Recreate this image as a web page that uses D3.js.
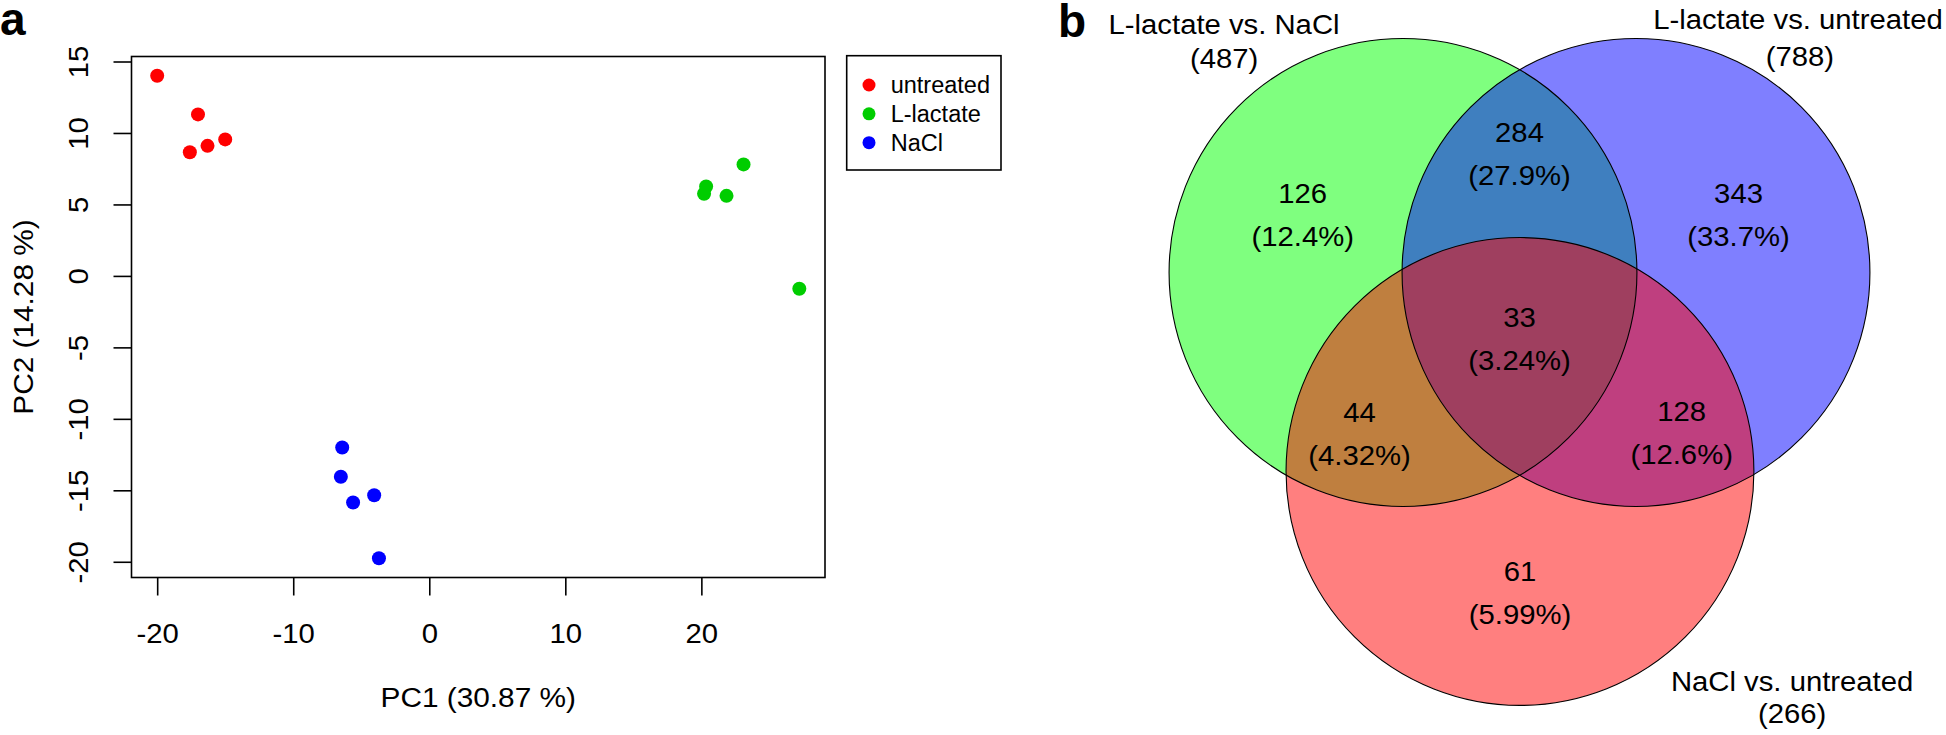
<!DOCTYPE html>
<html>
<head>
<meta charset="utf-8">
<script src="https://cdn.jsdelivr.net/npm/d3@7"></script>
<style>
  html, body { margin: 0; padding: 0; background: #fff; }
  svg text { font-family: "Liberation Sans", Arial, Helvetica, sans-serif; fill: #000; }
</style>
</head>
<body>
<svg id="chart" width="1946" height="735"></svg>
<script>
// ---------- Panel a: PCA data ----------
const groups = ["untreated", "L-lactate", "NaCl"];
const groupColors = ["#FF0000", "#00CD00", "#0000FF"];
const pc1Untreated = [-20.0, -17.0, -17.6, -16.3, -15.0];
const pc2Untreated = [14.0, 11.3, 8.65, 9.1, 9.55];
const pc1Lactate = [23.1, 20.35, 20.2, 21.85, 27.2];
const pc2Lactate = [7.8, 6.25, 5.75, 5.6, -0.9];
const pc1NaCl = [-6.4, -6.5, -5.6, -4.05, -3.7];
const pc2NaCl = [-12.0, -14.05, -15.85, -15.35, -19.75];
const xTicks = [-20, -10, 0, 10, 20];
const yTicks = [-20, -15, -10, -5, 0, 5, 10, 15];
const xTitle = "PC1 (30.87 %)";
const yTitle = "PC2 (14.28 %)";

// ---------- Panel b: Venn data ----------
const setNames = ["L-lactate vs. NaCl", "L-lactate vs. untreated", "NaCl vs. untreated"];
const setTotals = [487, 788, 266];
const setFills = ["#00FF00", "#0000FF", "#FF0000"];
const regionCounts = [126, 343, 61, 284, 44, 128, 33];
const regionPercents = ["12.4%", "33.7%", "5.99%", "27.9%", "4.32%", "12.6%", "3.24%"];

// ---------- layout ----------
const SX = 1.065;
const svg = d3.select("#chart");

function txt(g, x, y, s, opts) {
  opts = opts || {};
  const fs = opts.fs || 27.5;
  const sx = opts.sx || SX;
  const rot = opts.rot ? ` rotate(${opts.rot})` : "";
  return g.append("text")
    .attr("transform", `translate(${x},${y})${rot} scale(${sx},1)`)
    .attr("text-anchor", opts.anchor || "middle")
    .attr("font-size", fs)
    .attr("font-weight", opts.bold ? "bold" : null)
    .text(s);
}

// ===== Panel a =====
const plot = { left: 131.5, right: 825, top: 56.5, bottom: 577.5 };
const series = [
  { x: pc1Untreated, y: pc2Untreated },
  { x: pc1Lactate, y: pc2Lactate },
  { x: pc1NaCl, y: pc2NaCl }
];
const allX = series.flatMap(s => s.x), allY = series.flatMap(s => s.y);
function pad(ext) { const d = (ext[1] - ext[0]) * 0.04; return [ext[0] - d, ext[1] + d]; }
const xs = d3.scaleLinear().domain(pad(d3.extent(allX))).range([plot.left, plot.right]);
const ys = d3.scaleLinear().domain(pad(d3.extent(allY))).range([plot.bottom, plot.top]);

const ga = svg.append("g");
ga.append("rect")
  .attr("x", plot.left).attr("y", plot.top)
  .attr("width", plot.right - plot.left).attr("height", plot.bottom - plot.top)
  .attr("fill", "none").attr("stroke", "#000").attr("stroke-width", 1.6);

const xAxis = ga.append("g").attr("transform", `translate(0,${plot.bottom})`)
  .call(d3.axisBottom(xs).tickValues(xTicks).tickSize(18).tickSizeOuter(0).tickFormat(d => String(d)));
xAxis.select(".domain").remove();
xAxis.selectAll(".tick line").attr("stroke", "#000").attr("stroke-width", 1.6);
xAxis.selectAll(".tick text")
  .attr("x", null).attr("y", null).attr("dy", null).attr("fill", "#000")
  .attr("font-size", 27.5)
  .attr("transform", `translate(0,65.5) scale(${SX},1)`);

const yAxis = ga.append("g").attr("transform", `translate(${plot.left},0)`)
  .call(d3.axisLeft(ys).tickValues(yTicks).tickSize(18).tickSizeOuter(0).tickFormat(d => String(d)));
yAxis.select(".domain").remove();
yAxis.selectAll(".tick line").attr("stroke", "#000").attr("stroke-width", 1.6);
yAxis.selectAll(".tick text")
  .attr("x", null).attr("y", null).attr("dy", null).attr("fill", "#000")
  .attr("font-size", 27.5).attr("text-anchor", "middle")
  .attr("transform", `translate(-43.5,0) rotate(-90) scale(${SX},1)`);

series.forEach((s, i) => {
  ga.append("g").selectAll("circle")
    .data(s.x.map((v, k) => [v, s.y[k]]))
    .join("circle")
    .attr("cx", d => xs(d[0])).attr("cy", d => ys(d[1]))
    .attr("r", 7).attr("fill", groupColors[i]);
});

txt(ga, (plot.left + plot.right) / 2, 707, xTitle, { fs: 28 });
txt(ga, 33, (plot.top + plot.bottom) / 2, yTitle, { fs: 28, rot: -90 });
txt(ga, 0, 35, "a", { fs: 46, bold: true, anchor: "start", sx: 1 });

// legend
const lg = ga.append("g");
lg.append("rect").attr("x", 846.7).attr("y", 55.7).attr("width", 154.3).attr("height", 114.3)
  .attr("fill", "#fff").attr("stroke", "#000").attr("stroke-width", 1.6);
const legY = d3.scalePoint().domain(groups).range([85, 142.7]);
groups.forEach((g, i) => {
  lg.append("circle").attr("cx", 869).attr("cy", legY(g)).attr("r", 6.5).attr("fill", groupColors[i]);
  lg.append("text").attr("x", 890.7).attr("y", legY(g)).attr("dy", "0.36em")
    .attr("font-size", 23.5).text(g);
});

// ===== Panel b =====
const vx = d3.scaleLinear().domain([0, 1]).range([1403, 1636]);
const vy = d3.scaleLinear().domain([0, 1]).range([272.5, 505.5]);
const unitPx = vx(1) - vx(0);
const circleCenters = [[0, 0], [1, 0], [0.502, 0.854]];
const circleRadius = 1.004;
const regionLabelPos = [[-0.4305, -0.2996], [1.44, -0.2996], [0.502, 1.3227],
                        [0.5, -0.558], [-0.1867, 0.640], [1.196, 0.636], [0.5, 0.236]];
const setLabelPos = [[-0.768, -1.0236, -0.876], [1.695, -1.043, -0.888], [1.67, 1.796, 1.933]];

const gb = svg.append("g");
gb.selectAll("circle.fill").data(setFills).join("circle")
  .attr("class", "fill")
  .attr("cx", (d, i) => vx(circleCenters[i][0])).attr("cy", (d, i) => vy(circleCenters[i][1]))
  .attr("r", circleRadius * unitPx)
  .attr("fill", d => d).attr("fill-opacity", 0.5);
gb.selectAll("circle.edge").data(setFills).join("circle")
  .attr("class", "edge")
  .attr("cx", (d, i) => vx(circleCenters[i][0])).attr("cy", (d, i) => vy(circleCenters[i][1]))
  .attr("r", circleRadius * unitPx)
  .attr("fill", "none").attr("stroke", "#000").attr("stroke-width", 1.1);

regionCounts.forEach((c, i) => {
  const px = vx(regionLabelPos[i][0]), py = vy(regionLabelPos[i][1]);
  txt(gb, px, py, String(c), { fs: 27.5 });
  txt(gb, px, py + 43, "(" + regionPercents[i] + ")", { fs: 27.5 });
});

setNames.forEach((n, i) => {
  const p = setLabelPos[i];
  txt(gb, vx(p[0]), vy(p[1]), n, { fs: 27.5 });
  txt(gb, vx(p[0]) + (i === 1 ? 2 : 0), vy(p[2]), "(" + setTotals[i] + ")", { fs: 27.5 });
});

txt(gb, 1058, 36.7, "b", { fs: 46, bold: true, anchor: "start", sx: 1 });
</script>
</body>
</html>
